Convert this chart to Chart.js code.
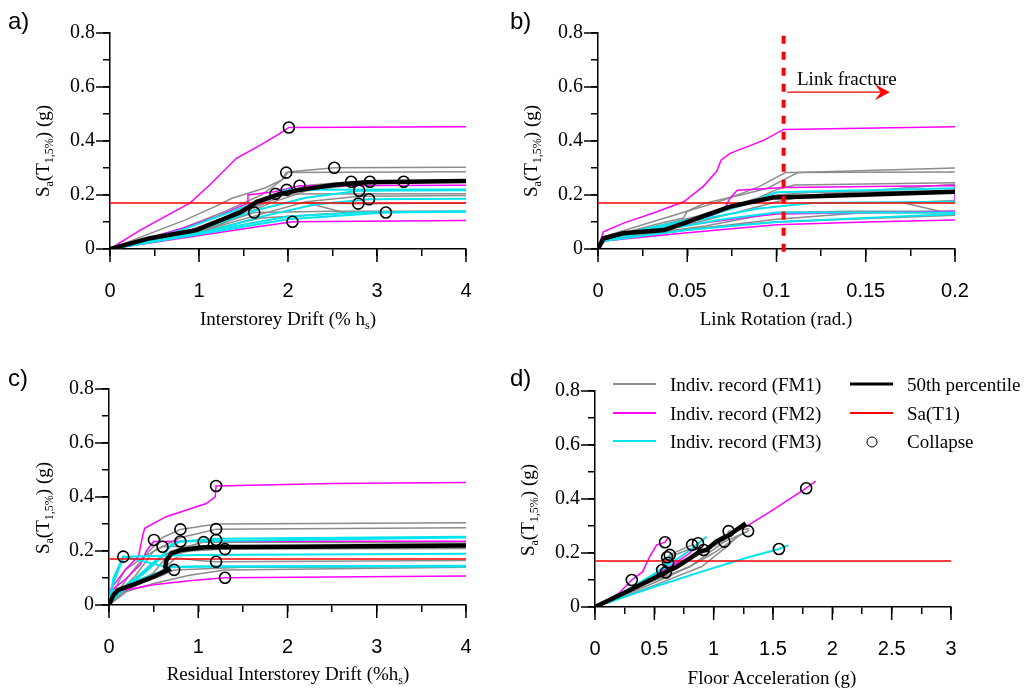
<!DOCTYPE html>
<html>
<head>
<meta charset="utf-8">
<script src="https://cdn.jsdelivr.net/npm/chart.js@4.4.1/dist/chart.umd.min.js"></script>
<style>
  body { margin: 0; background: #fff; }
  #wrap { position: relative; width: 1028px; height: 692px; overflow: hidden; }
  canvas { position: absolute; }
  .t { position: absolute; font-family: "Liberation Serif", "Times New Roman", serif; font-size: 19px; white-space: nowrap; line-height: 1; color: #000; }
  .yt { transform: translate(-50%, -50%) rotate(-90deg); }
  .xt { transform: translate(-50%, -50%); }
  .pl { position: absolute; font-family: "Liberation Sans", Arial, sans-serif; font-size: 24px; line-height: 1; }
  sub { font-size: 12px; vertical-align: -4px; line-height: 0; }
  .lg { transform: translateY(-50%); }
  .ln { position: absolute; width: 43px; height: 2px; transform: translateY(-50%); }
  .mk { position: absolute; width: 9px; height: 9px; border: 1.5px solid #000; border-radius: 50%; transform: translate(-50%, -50%); }
</style>
</head>
<body>
<div id="wrap">
  <canvas id="ca" width="514" height="346" style="left:0;top:0"></canvas>
  <canvas id="cb" width="514" height="346" style="left:514px;top:0"></canvas>
  <canvas id="cc" width="514" height="346" style="left:0;top:346px"></canvas>
  <canvas id="cd" width="514" height="346" style="left:514px;top:346px"></canvas>

  <div class="pl" style="left:8px;top:9px">a)</div>
  <div class="pl" style="left:510px;top:9px">b)</div>
  <div class="pl" style="left:8px;top:366px">c)</div>
  <div class="pl" style="left:510px;top:366px">d)</div>

  <div class="t yt" style="left:42px;top:151px">S<sub>a</sub>(T<sub>1,5%</sub>) (g)</div>
  <div class="t yt" style="left:530px;top:151px">S<sub>a</sub>(T<sub>1,5%</sub>) (g)</div>
  <div class="t yt" style="left:42px;top:508px">S<sub>a</sub>(T<sub>1,5%</sub>) (g)</div>
  <div class="t yt" style="left:527px;top:510px">S<sub>a</sub>(T<sub>1,5%</sub>) (g)</div>

  <div class="t xt" style="left:288px;top:318px">Interstorey Drift (% h<sub>s</sub>)</div>
  <div class="t xt" style="left:776px;top:318px">Link Rotation (rad.)</div>
  <div class="t xt" style="left:288px;top:673px">Residual Interstorey Drift (%h<sub>s</sub>)</div>
  <div class="t xt" style="left:772px;top:677px">Floor Acceleration (g)</div>

  <div class="t lg" style="left:797px;top:78px">Link fracture</div>

  <div class="ln" style="left:613px;top:384px;background:#8c8c8c"></div>
  <div class="t lg" style="left:670px;top:384px">Indiv. record (FM1)</div>
  <div class="ln" style="left:613px;top:413px;background:#ff00ff"></div>
  <div class="t lg" style="left:670px;top:413px">Indiv. record (FM2)</div>
  <div class="ln" style="left:613px;top:441px;background:#00e5ee"></div>
  <div class="t lg" style="left:670px;top:441px">Indiv. record (FM3)</div>
  <div class="ln" style="left:850px;top:384px;height:3px;background:#000"></div>
  <div class="t lg" style="left:907px;top:384px">50th percentile</div>
  <div class="ln" style="left:850px;top:413px;background:#ff0000"></div>
  <div class="t lg" style="left:907px;top:413px">Sa(T1)</div>
  <div class="mk" style="left:872px;top:442px"></div>
  <div class="t lg" style="left:907px;top:441px">Collapse</div>
</div>

<script>
// ---- a) interstorey drift (% hs) vs Sa
var driftFM1 = [
  [[0,0],[0.84,0.107],[1.18,0.157],[1.37,0.188],[1.74,0.226],[1.93,0.256],[1.98,0.283],[4,0.286]],
  [[0,0],[0.8,0.075],[1.3,0.14],[1.7,0.2],[1.95,0.26],[2.0,0.285],[2.52,0.301],[4,0.303]],
  [[0,0],[1.0,0.075],[1.5,0.14],[1.9,0.2],[2.2,0.235],[2.71,0.249],[4,0.25]],
  [[0,0],[1.1,0.08],[1.6,0.15],[2.0,0.205],[2.4,0.235],[2.92,0.249],[4,0.25]],
  [[0,0],[1.2,0.085],[1.8,0.17],[2.2,0.215],[2.8,0.24],[3.3,0.249],[4,0.25]],
  [[0,0],[0.9,0.07],[1.3,0.12],[1.6,0.17],[1.86,0.204],[4,0.205]],
  [[0,0],[1.1,0.07],[1.7,0.115],[2.64,0.134],[2.22,0.17],[2.79,0.168],[4,0.17]],
  [[0,0],[0.9,0.06],[1.3,0.1],[1.62,0.135],[2.5,0.14],[4,0.14]],
  [[0,0],[1.0,0.065],[1.6,0.12],[2.2,0.175],[2.8,0.195],[4,0.198]]
];
var driftFM2 = [
  [[0,0],[0.34,0.07],[0.9,0.171],[1.12,0.237],[1.42,0.336],[1.69,0.385],[1.91,0.428],[2.01,0.45],[4,0.453]],
  [[0,0],[0.8,0.075],[1.2,0.12],[1.55,0.17],[1.55,0.2],[1.85,0.212],[2.13,0.234],[4,0.236]],
  [[0,0],[1.0,0.05],[1.6,0.08],[2.05,0.101],[4,0.106]]
];
var driftFM3 = [
  [[0,0],[0.8,0.07],[1.3,0.13],[1.7,0.18],[1.985,0.219],[4,0.22]],
  [[0,0],[1.0,0.07],[1.6,0.14],[2.2,0.19],[2.8,0.216],[4,0.218]],
  [[0,0],[1.1,0.065],[1.7,0.12],[2.3,0.165],[2.91,0.184],[4,0.186]],
  [[0,0],[1.0,0.055],[2.0,0.11],[3.1,0.135],[4,0.138]],
  [[0,0],[1.0,0.06],[2.0,0.12],[2.8,0.135],[4,0.14]]
];
var driftMedian = [[0,0],[0.45,0.04],[0.97,0.07],[1.2,0.101],[1.46,0.135],[1.65,0.175],[1.91,0.204],[2.13,0.219],[2.51,0.237],[2.88,0.247],[4,0.252]];
var driftCollapse = [[2.01,0.45],[1.98,0.283],[2.52,0.301],[1.86,0.204],[1.985,0.219],[2.13,0.234],[1.62,0.135],[2.05,0.101],
  [2.71,0.249],[2.92,0.249],[2.8,0.216],[2.79,0.168],[2.91,0.184],[3.1,0.135],[3.3,0.249]];

// ---- b) link rotation (rad.) vs Sa
var rotFM1 = [
  [[0,0],[0.003,0.045],[0.03,0.1],[0.05,0.14],[0.07,0.18],[0.09,0.23],[0.1,0.265],[0.105,0.283],[0.2,0.285]],
  [[0,0],[0.003,0.04],[0.035,0.095],[0.048,0.115],[0.05,0.14],[0.06,0.17],[0.08,0.2],[0.095,0.225],[0.105,0.26],[0.112,0.283],[0.2,0.3]],
  [[0,0],[0.003,0.04],[0.04,0.09],[0.07,0.15],[0.09,0.19],[0.1,0.22],[0.11,0.237],[0.2,0.245]],
  [[0,0],[0.003,0.035],[0.05,0.09],[0.08,0.14],[0.1,0.175],[0.12,0.2],[0.2,0.24]],
  [[0,0],[0.004,0.035],[0.06,0.085],[0.1,0.135],[0.14,0.14],[0.2,0.14]],
  [[0,0],[0.004,0.03],[0.05,0.07],[0.1,0.11],[0.15,0.135],[0.195,0.134],[0.171,0.171],[0.2,0.18]],
  [[0,0],[0.003,0.035],[0.06,0.08],[0.1,0.1],[0.2,0.125]],
  [[0,0],[0.003,0.04],[0.03,0.08],[0.055,0.12],[0.07,0.15],[0.085,0.17],[0.1,0.2],[0.12,0.21],[0.2,0.215]]
];
var rotFM2 = [
  [[0,0],[0.003,0.064],[0.014,0.095],[0.033,0.138],[0.048,0.175],[0.059,0.232],[0.0665,0.288],[0.069,0.33],[0.074,0.354],[0.093,0.403],[0.104,0.443],[0.2,0.453]],
  [[0,0],[0.003,0.045],[0.04,0.09],[0.06,0.115],[0.07,0.14],[0.074,0.188],[0.078,0.218],[0.105,0.228],[0.2,0.235],[0.2,0.17]],
  [[0,0],[0.003,0.03],[0.05,0.06],[0.1,0.09],[0.15,0.1],[0.2,0.107]],
  [[0,0],[0.003,0.04],[0.04,0.08],[0.08,0.115],[0.1,0.13],[0.2,0.14]]
];
var rotFM3 = [
  [[0,0],[0.003,0.04],[0.03,0.08],[0.06,0.12],[0.08,0.16],[0.1,0.21],[0.2,0.225]],
  [[0,0],[0.003,0.035],[0.04,0.075],[0.07,0.11],[0.1,0.135],[0.2,0.135]],
  [[0,0],[0.003,0.03],[0.05,0.07],[0.1,0.1],[0.2,0.13]],
  [[0,0],[0.003,0.04],[0.05,0.1],[0.09,0.15],[0.12,0.17],[0.2,0.175]]
];
var rotMedian = [[0,0],[0.003,0.039],[0.014,0.058],[0.037,0.07],[0.048,0.095],[0.061,0.126],[0.074,0.157],[0.098,0.191],[0.126,0.196],[0.2,0.212]];
var linkFracture = 0.104;

// ---- c) residual interstorey drift (% hs) vs Sa
var resFM1 = [
  [[0,0],[0.1,0.05],[0.25,0.12],[0.45,0.2],[0.6,0.25],[0.8,0.28],[1.2,0.3],[4,0.305]],
  [[0,0],[0.15,0.06],[0.3,0.11],[0.5,0.2],[0.8,0.25],[1.0,0.265],[1.2,0.281],[4,0.286]],
  [[0,0],[0.1,0.045],[0.3,0.1],[0.5,0.16],[0.7,0.2],[1.06,0.233],[4,0.23]],
  [[0,0],[0.2,0.06],[0.5,0.12],[0.65,0.18],[0.9,0.2],[1.3,0.207],[4,0.209]],
  [[0,0],[0.15,0.05],[0.4,0.09],[0.6,0.13],[0.75,0.175],[1.0,0.165],[1.2,0.16],[4,0.165]],
  [[0,0],[0.12,0.04],[0.35,0.08],[0.6,0.11],[0.73,0.13],[1.5,0.14],[4,0.142]],
  [[0,0],[0.2,0.05],[0.5,0.08],[0.9,0.11],[1.3,0.13],[4,0.14]],
  [[0,0],[0.1,0.08],[0.18,0.13],[0.4,0.18],[0.6,0.216],[1.2,0.22],[4,0.22]]
];
var resFM2 = [
  [[0,0],[0.01,0.055],[0.18,0.13],[0.33,0.18],[0.38,0.26],[0.4,0.284],[0.64,0.327],[1.09,0.376],[1.19,0.401],[1.2,0.441],[2.5,0.45],[4,0.454]],
  [[0,0],[0.05,0.06],[0.2,0.1],[0.35,0.15],[0.42,0.2],[0.5,0.235],[1.0,0.236],[4,0.236]],
  [[0,0],[0.1,0.05],[0.5,0.075],[0.9,0.09],[1.3,0.101],[4,0.107]]
];
var resFM3 = [
  [[0,0],[0.05,0.08],[0.16,0.179],[1.0,0.185],[4,0.19]],
  [[0,0],[0.1,0.05],[0.3,0.1],[0.55,0.17],[0.7,0.22],[0.8,0.235],[1.2,0.245],[4,0.253]],
  [[0,0],[0.15,0.06],[0.4,0.12],[0.6,0.18],[0.7,0.225],[0.8,0.235],[4,0.25]],
  [[0,0],[0.1,0.04],[0.3,0.09],[0.55,0.12],[0.7,0.14],[1.0,0.143],[4,0.143]],
  [[0,0],[0.05,0.1],[0.16,0.18],[0.63,0.142],[1.2,0.143],[4,0.145]]
];
var resMedian = [[0,0],[0.05,0.037],[0.105,0.056],[0.31,0.08],[0.5,0.105],[0.665,0.13],[0.63,0.142],[0.645,0.167],[0.7,0.191],[0.81,0.204],[1.075,0.214],[2.08,0.216],[4,0.22]];
var resCollapse = [[0.16,0.179],[0.504,0.241],[0.6,0.216],[0.8,0.28],[0.8,0.235],[0.73,0.13],[1.06,0.233],[1.2,0.441],[1.2,0.281],[1.2,0.241],[1.2,0.16],[1.3,0.207],[1.3,0.101]];

// ---- d) floor acceleration (g) vs Sa
var accFM1 = [
  [[0,0],[0.3,0.06],[0.6,0.13],[0.9,0.2],[1.1,0.25],[1.126,0.281],[1.3,0.29]],
  [[0,0],[0.4,0.08],[0.8,0.15],[1.09,0.242],[1.29,0.281]],
  [[0,0],[0.3,0.06],[0.57,0.137],[0.6,0.18],[0.8,0.215],[0.916,0.211]],
  [[0,0],[0.5,0.09],[0.8,0.15],[1.0,0.2],[1.2,0.26],[1.3,0.285]],
  [[0,0],[0.3,0.07],[0.597,0.128],[0.63,0.193],[0.818,0.23]],
  [[0,0],[0.5,0.08],[0.9,0.15],[1.1,0.22],[1.2,0.26]]
];
var accFM2 = [
  [[0,0],[0.3,0.07],[0.6,0.14],[0.9,0.21],[1.1,0.26],[1.3,0.305],[1.5,0.36],[1.78,0.44],[1.86,0.466]],
  [[0,0],[0.2,0.05],[0.31,0.1],[0.4,0.13],[0.46,0.186],[0.52,0.23],[0.59,0.24],[0.62,0.259]],
  [[0,0],[0.3,0.065],[0.55,0.13],[0.6,0.14],[0.8,0.2],[0.868,0.236]]
];
var accFM3 = [
  [[0,0],[0.5,0.075],[1.0,0.145],[1.3,0.185],[1.55,0.215],[1.63,0.229]],
  [[0,0],[0.3,0.07],[0.6,0.15],[0.8,0.21],[0.94,0.26]],
  [[0,0],[0.3,0.065],[0.5,0.12],[0.616,0.164]],
  [[0,0],[0.4,0.09],[0.6,0.13],[0.63,0.193]]
];
var accMedian = [[0,0],[0.24,0.051],[0.52,0.112],[0.69,0.149],[0.8,0.18],[0.88,0.205],[0.94,0.211],[1.02,0.242],[1.13,0.266],[1.27,0.31]];
var accCollapse = [[0.31,0.1],[0.59,0.24],[0.566,0.137],[0.597,0.128],[0.608,0.184],[0.63,0.193],[0.616,0.164],[0.818,0.23],
  [0.868,0.236],[0.916,0.211],[1.09,0.242],[1.126,0.281],[1.29,0.281],[1.55,0.215],[1.78,0.44]];

var saT1 = 0.17;
var yTicks = ['0', '0.2', '0.4', '0.6', '0.8'];

var GRAY = '#8c8c8c', MAG = '#ff00ff', CYAN = '#00e5ee';
var SERIF = 'Liberation Serif';
var SANS = 'Liberation Sans';

function pts(arr) {
  return arr.map(function (p) { return { x: p[0], y: p[1] }; });
}

function curves(list, color, w) {
  return list.map(function (c) {
    return { data: pts(c), showLine: true, borderColor: color, borderWidth: w, pointRadius: 0, tension: 0 };
  });
}

// first dataset is painted last (on top)
function buildSets(fm1, fm2, fm3, median, collapse, xEnd, extra) {
  var sets = [];
  if (collapse) {
    sets.push({ data: pts(collapse), showLine: false, pointRadius: 5.5, pointBorderWidth: 1.6,
      pointBorderColor: '#000', pointBackgroundColor: 'rgba(0,0,0,0)' });
  }
  if (extra) sets = sets.concat(extra);
  sets.push({ data: pts(median), showLine: true, borderColor: '#000', borderWidth: 4.5, pointRadius: 0 });
  sets.push({ data: [{ x: 0, y: saT1 }, { x: xEnd, y: saT1 }], showLine: true, borderColor: '#ff0000', borderWidth: 1.5, pointRadius: 0 });
  return sets.concat(curves(fm3, CYAN, 2), curves(fm2, MAG, 1.5), curves(fm1, GRAY, 1.5));
}

// longer marks for labelled ticks
var majorTicks = {
  id: 'majorTicks',
  afterDraw: function (chart) {
    var ctx = chart.ctx, xs = chart.scales.x, ys = chart.scales.y;
    ctx.save();
    ctx.strokeStyle = '#000';
    ctx.lineWidth = 1.5;
    ctx.beginPath();
    xs.ticks.forEach(function (t, i) {
      if (t.label !== '') {
        var px = xs.getPixelForTick(i);
        ctx.moveTo(px, xs.top); ctx.lineTo(px, xs.top + 13);
      }
    });
    ys.ticks.forEach(function (t, i) {
      if (t.label !== '') {
        var py = ys.getPixelForTick(i);
        ctx.moveTo(ys.right - 14, py); ctx.lineTo(ys.right, py);
      }
    });
    ctx.stroke();
    ctx.restore();
  }
};

var fractureArrow = {
  id: 'fractureArrow',
  afterDatasetsDraw: function (chart) {
    var xs = chart.scales.x, ys = chart.scales.y, ctx = chart.ctx;
    var x1 = xs.getPixelForValue(0.106), x2 = xs.getPixelForValue(0.1635), y = ys.getPixelForValue(0.581);
    ctx.save();
    ctx.strokeStyle = '#ff0000';
    ctx.fillStyle = '#ff0000';
    ctx.lineWidth = 1.3;
    ctx.beginPath();
    ctx.moveTo(x1, y); ctx.lineTo(x2 - 6, y);
    ctx.stroke();
    ctx.beginPath();
    ctx.moveTo(x2, y); ctx.lineTo(x2 - 15, y - 8); ctx.lineTo(x2 - 9, y); ctx.lineTo(x2 - 15, y + 8);
    ctx.closePath();
    ctx.fill();
    ctx.restore();
  }
};

function near(v, step) {
  return Math.abs(v / step - Math.round(v / step)) < 1e-6;
}

function panel(id, sets, xMax, xStep, xLabelStep, box, plugins) {
  return new Chart(document.getElementById(id), {
    type: 'scatter',
    data: { datasets: sets },
    options: {
      responsive: false,
      animation: false,
      devicePixelRatio: 1,
      events: [],
      layout: { padding: { left: 0, top: box.top, right: 514 - box.right, bottom: 0 } },
      plugins: { legend: { display: false }, tooltip: { enabled: false } },
      scales: {
        x: {
          type: 'linear', min: 0, max: xMax,
          grid: { drawOnChartArea: false, tickLength: 7, color: '#000', lineWidth: 1.5 },
          border: { color: '#000', width: 1.5 },
          ticks: {
            stepSize: xStep, autoSkip: false, maxRotation: 0, padding: 23, color: '#000',
            font: { family: SANS, size: 20 },
            callback: function (v) { return near(v, xLabelStep) ? String(+v.toFixed(2)) : ''; }
          },
          afterFit: function (s) { s.height = 346 - box.bottom; }
        },
        y: {
          type: 'linear', min: 0, max: 0.8,
          grid: { drawOnChartArea: false, tickLength: 7, color: '#000', lineWidth: 1.5 },
          border: { color: '#000', width: 1.5 },
          ticks: {
            stepSize: 0.1, autoSkip: false, padding: 8, color: '#000',
            font: { family: SERIF, size: 20 },
            callback: function (v) { return near(v, 0.2) ? yTicks[Math.round(v / 0.2)] : ''; }
          },
          afterFit: function (s) { s.width = box.left; }
        }
      }
    },
    plugins: [majorTicks].concat(plugins || [])
  });
}

panel('ca', buildSets(driftFM1, driftFM2, driftFM3, driftMedian, driftCollapse, 4), 4, 0.5, 1,
  { left: 110, right: 466, top: 33, bottom: 249 });

var fractureLine = {
  data: [{ x: linkFracture, y: -0.01 }, { x: linkFracture, y: 0.81 }], showLine: true,
  borderColor: '#ff0000', borderWidth: 4, borderDash: [8, 8], pointRadius: 0, clip: false
};
panel('cb', buildSets(rotFM1, rotFM2, rotFM3, rotMedian, null, 0.2, [fractureLine]), 0.2, 0.025, 0.05,
  { left: 84, right: 441, top: 33, bottom: 249 }, [fractureArrow]);

panel('cc', buildSets(resFM1, resFM2, resFM3, resMedian, resCollapse, 4), 4, 0.5, 1,
  { left: 109, right: 466, top: 43, bottom: 259 });

panel('cd', buildSets(accFM1, accFM2, accFM3, accMedian, accCollapse, 3), 3, 0.25, 0.5,
  { left: 81, right: 437, top: 45, bottom: 261 });
</script>
</body>
</html>
